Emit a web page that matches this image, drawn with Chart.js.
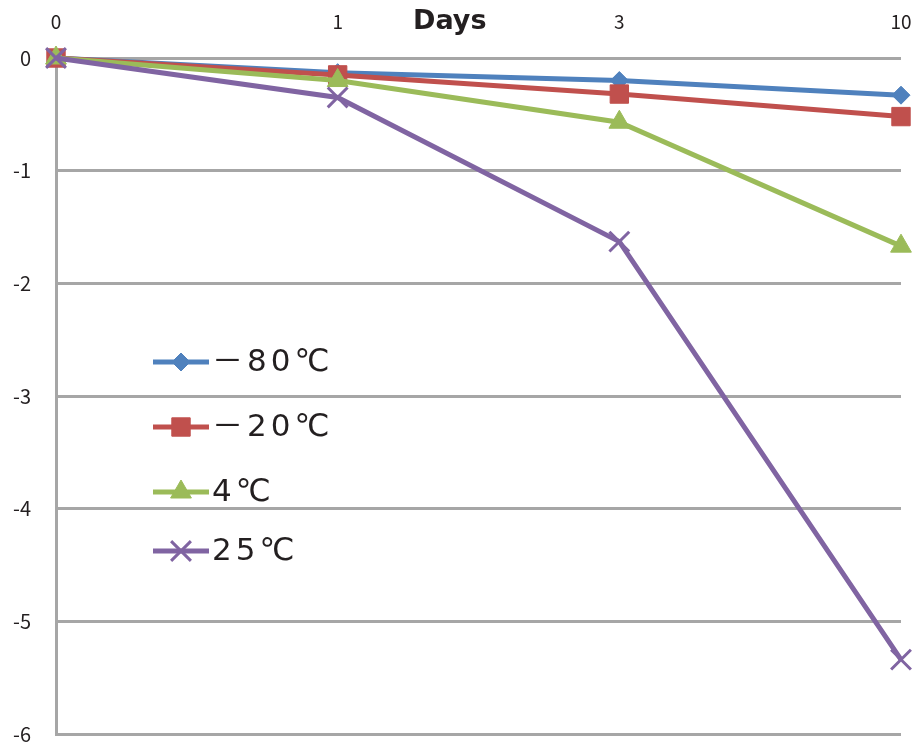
<!DOCTYPE html>
<html>
<head>
<meta charset="utf-8">
<script src="https://cdn.jsdelivr.net/npm/chart.js@4/dist/chart.umd.min.js"></script>
<style>
  body { margin: 0; background: #fff; overflow: hidden; }
</style>
</head>
<body>
<canvas id="grafico" width="918" height="751"></canvas>
<script>
// datos
const dias = ["0", "1", "3", "10"];
const etiquetas = ["－80℃", "－20℃", "4℃", "25℃"];
const menos80 = [0, -0.13, -0.2, -0.33];
const menos20 = [0, -0.15, -0.32, -0.52];
const cuatro = [0, -0.2, -0.57, -1.67];
const veinticinco = [0, -0.35, -1.63, -5.34];
const ticksY = [0, -1, -2, -3, -4, -5, -6];

const colores = ["#4F81BD", "#C0504D", "#9BBB59", "#8064A2"];
const estilos = ["rectRot", "rect", "triangle", "crossRot"];
const radios = [9, 13, 12, 14];
const grosorMarca = [1, 1, 1, 3];
const series = [menos80, menos20, cuatro, veinticinco];

const fuente = "'Noto Sans CJK JP', 'Noto Sans', sans-serif";
const fuenteAncha = "'DejaVu Sans', 'Noto Sans CJK JP', sans-serif";

// leyenda dentro del area y titulo "Days", dibujados a mano
const leyenda = {
  id: "leyenda",
  afterDraw(chart) {
    const ctx = chart.ctx;
    const filas = [362, 427, 492, 551];
    ctx.save();
    series.forEach((s, i) => {
      const y = filas[i];
      ctx.strokeStyle = colores[i];
      ctx.fillStyle = colores[i];
      ctx.lineWidth = 5;
      ctx.beginPath();
      ctx.moveTo(153, y);
      ctx.lineTo(209, y);
      ctx.stroke();
      ctx.lineWidth = grosorMarca[i];
      Chart.helpers.drawPoint(ctx, {
        pointStyle: estilos[i], radius: radios[i], borderWidth: grosorMarca[i], rotation: 0
      }, 181, y);
      ctx.fillStyle = "#231F20";
      ctx.font = "31px " + fuenteAncha;
      ctx.letterSpacing = "4px";
      ctx.textBaseline = "middle";
      ctx.textAlign = "left";
      ctx.fillText(etiquetas[i], 212, y + 1);
    });
    ctx.letterSpacing = "0px";
    ctx.font = "bold 27px " + fuenteAncha;
    ctx.textAlign = "left";
    ctx.fillText("Days", 413, 22);
    ctx.restore();
  }
};

new Chart(document.getElementById("grafico").getContext("2d"), {
  type: "line",
  data: {
    labels: dias,
    datasets: series.map((s, i) => ({
      label: etiquetas[i],
      data: s,
      borderColor: colores[i],
      backgroundColor: colores[i],
      borderWidth: 5,
      pointStyle: estilos[i],
      pointRadius: radios[i],
      pointBorderWidth: grosorMarca[i],
      pointBackgroundColor: colores[i],
      pointBorderColor: colores[i],
      tension: 0,
      clip: false,
      order: 4 - i
    }))
  },
  options: {
    responsive: false,
    animation: false,
    events: [],
    layout: { padding: { right: 17, bottom: 6 } },
    plugins: {
      legend: { display: false },
      tooltip: { enabled: false }
    },
    scales: {
      x: {
        position: "top",
        offset: false,
        grid: { display: false, drawTicks: false },
        border: { display: false },
        ticks: {
          padding: 25,
          maxRotation: 0,
          color: "#231F20",
          font: { family: fuente, size: 19 }
        },
        afterFit(scale) {
          scale.height = 58;
          scale.paddingLeft = 0;
          scale.paddingRight = 0;
        }
      },
      y: {
        min: -6,
        max: 0,
        afterBuildTicks(scale) { scale.ticks = ticksY.map(v => ({ value: v })); },
        grid: { color: "#A6A6A6", lineWidth: 3, drawTicks: false },
        border: { color: "#A6A6A6", width: 3 },
        ticks: {
          padding: 25,
          color: "#231F20",
          font: { family: fuente, size: 20 }
        },
        afterFit(scale) {
          scale.width = 56;
          scale.paddingTop = 0;
          scale.paddingBottom = 0;
        }
      }
    }
  },
  plugins: [leyenda]
});
</script>
</body>
</html>
